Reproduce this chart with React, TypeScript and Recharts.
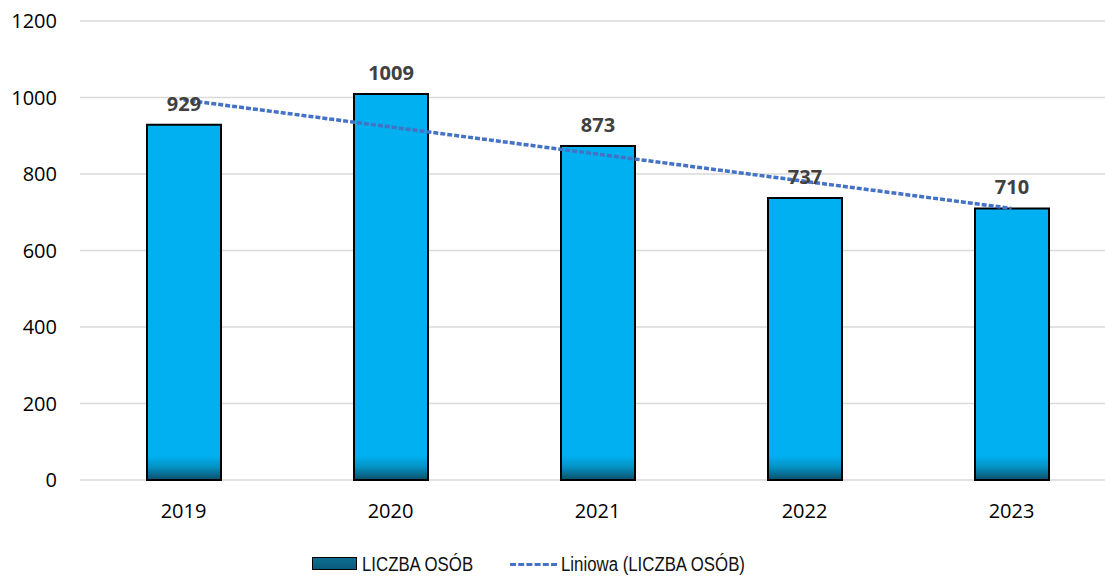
import { ComposedChart, Bar, Line, XAxis, YAxis, CartesianGrid, LabelList } from "recharts";

const years = ["2019", "2020", "2021", "2022", "2023"];
const people = [929, 1009, 873, 737, 710];
const trend = [994, 923, 852, 781, 710];
const yTicks = [0, 200, 400, 600, 800, 1000, 1200];

const data = years.map((y, i) => ({ year: y, people: people[i], trend: trend[i] }));

const font = "'Open Sans', sans-serif";
const legendText = {
  position: "absolute" as const,
  top: 0,
  fontFamily: "'Liberation Sans', Arial, sans-serif",
  fontSize: 20,
  lineHeight: "22px",
  color: "#111",
  whiteSpace: "nowrap" as const,
  transform: "scaleX(0.84)",
  transformOrigin: "left center",
};

const App = () => {
  return (
    <div style={{ position: "absolute", left: 0, top: 0, width: 1105, height: 576, overflow: "hidden", background: "#fff" }}>
      <ComposedChart width={1115} height={576} data={data} margin={{ top: 21, right: 0, bottom: 56, left: 0 }} barSize={74}>
        <defs>
          <linearGradient id="barFill" gradientUnits="userSpaceOnUse" x1="0" y1="456" x2="0" y2="480">
            <stop offset="0" stopColor="#00b0f0" />
            <stop offset="0.45" stopColor="#0592c4" />
            <stop offset="1" stopColor="#0b4e6a" />
          </linearGradient>
        </defs>
        <CartesianGrid vertical={false} stroke="#d9d9d9" strokeWidth={1.5} />
        <XAxis
          dataKey="year"
          height={40}
          axisLine={false}
          tickLine={false}
          tickSize={0}
          tickMargin={24}
          tick={{ fill: "#000", fontSize: 20, fontFamily: font }}
        />
        <YAxis
          width={80}
          domain={[0, 1200]}
          ticks={yTicks}
          axisLine={false}
          tickLine={false}
          tickSize={0}
          tickMargin={23}
          tick={{ fill: "#000", fontSize: 20, fontFamily: font }}
        />
        <Bar dataKey="people" fill="url(#barFill)" stroke="#000" strokeWidth={2} isAnimationActive={false}>
          <LabelList
            dataKey="people"
            position="top"
            offset={14}
            style={{ fill: "#404040", fontSize: 20, fontWeight: 700, fontFamily: font }}
          />
        </Bar>
        <Line
          dataKey="trend"
          stroke="#4472c4"
          strokeWidth={3.5}
          strokeDasharray="5 2"
          dot={false}
          activeDot={false}
          isAnimationActive={false}
        />
      </ComposedChart>
      <div style={{ position: "absolute", top: 553, left: 0, width: 1105, height: 22 }}>
        <div style={{ position: "absolute", left: 312, top: 4, width: 43, height: 11, border: "1.5px solid #000", background: "linear-gradient(#0d6f94, #0a5a7a)" }} />
        <span style={{ ...legendText, left: 362 }}>LICZBA OSÓB</span>
        <div style={{ position: "absolute", left: 510, top: 10, width: 47, height: 0, borderTop: "3px dashed #4472c4" }} />
        <span style={{ ...legendText, left: 561 }}>Liniowa (LICZBA OSÓB)</span>
      </div>
    </div>
  );
};

export default App;
